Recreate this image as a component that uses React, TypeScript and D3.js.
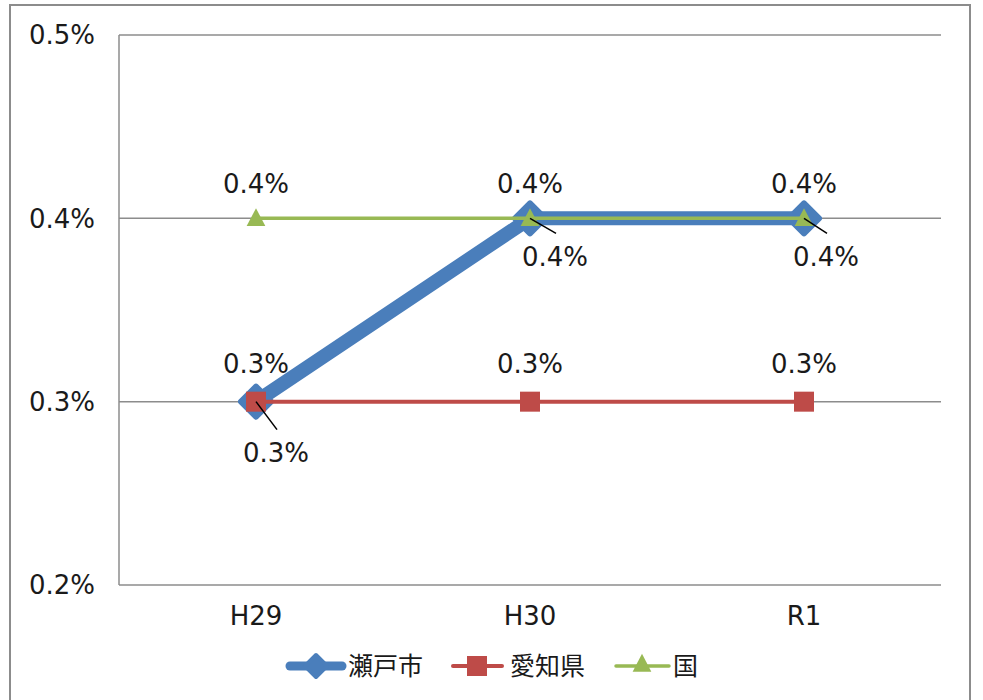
import React from "react";
import * as d3 from "d3";

const categories = ["H29", "H30", "R1"];
const setoValues = [0.003, 0.004, 0.004];
const aichiValues = [0.003, 0.003, 0.003];
const kuniValues = [0.004, 0.004, 0.004];
const yTicks = [0.002, 0.003, 0.004, 0.005];
const seriesNames = ["瀬戸市", "愛知県", "国"];

const W = 983;
const H = 700;
const M = { left: 119, right: 941, top: 35, bottom: 585 };
const LATIN = "'DejaVu Sans', sans-serif";
const CJK = "'Noto Sans CJK JP', sans-serif";
const BLUE = "#4a7ebb";
const RED = "#be4b48";
const GREEN = "#98b954";
const TXT = "#1a1a1a";

// leader-line label placement for Seto labels (layout only)
const setoLabelOffsets = [
  { lx: 21, ly: 28, tx: 20, ty: 51 },
  { lx: 26, ly: 15, tx: 25, ty: 38 },
  { lx: 23, ly: 15, tx: 22, ty: 38 },
];

const fmt = (v: number) => `${(v * 100).toFixed(1)}%`;

export default function App() {
  const x = d3.scaleBand<string>().domain(categories).range([M.left, M.right]);
  const cx = (c: string) => (x(c) as number) + x.bandwidth() / 2;
  const y = d3.scaleLinear().domain([0.002, 0.005]).range([M.bottom, M.top]);
  const line = d3
    .line<number>()
    .x((_, i) => cx(categories[i]))
    .y((d) => y(d));

  const diamond = (px: number, py: number, r: number) =>
    `M${px},${py - r}L${px + r},${py}L${px},${py + r}L${px - r},${py}Z`;
  const tri = (px: number, py: number, s: number) =>
    `M${px},${py - s * 0.6}L${px + s * 0.55},${py + s * 0.45}L${px - s * 0.55},${py + s * 0.45}Z`;

  return (
    <svg width={W} height={H} style={{ display: "block", position: "absolute", left: 0, top: 0 }}>
      <rect x={0} y={0} width={W} height={H} fill="#fff" />
      <rect x={10} y={5} width={960} height={710} fill="#fff" stroke="#8c8c8c" strokeWidth={2} />
      {yTicks.map((t) => (
        <line key={t} x1={M.left} x2={M.right} y1={y(t)} y2={y(t)} stroke="#8c8c8c" strokeWidth={1.5} />
      ))}
      <line x1={M.left} x2={M.left} y1={M.top} y2={M.bottom} stroke="#8c8c8c" strokeWidth={1.5} />
      {yTicks.map((t) => (
        <text key={t} x={62} y={y(t)} dy="0.36em" textAnchor="middle" fontFamily={LATIN} fontSize={26} fill={TXT}>
          {fmt(t)}
        </text>
      ))}
      {categories.map((c) => (
        <text key={c} x={cx(c)} y={616} dy="0.36em" textAnchor="middle" fontFamily={LATIN} fontSize={26} fill={TXT}>
          {c}
        </text>
      ))}
      <path d={line(setoValues) || ""} fill="none" stroke={BLUE} strokeWidth={14} strokeLinejoin="round" />
      {setoValues.map((v, i) => (
        <path key={i} d={diamond(cx(categories[i]), y(v), 15)} fill={BLUE} stroke={BLUE} strokeWidth={6} strokeLinejoin="round" />
      ))}
      <path d={line(aichiValues) || ""} fill="none" stroke={RED} strokeWidth={4} />
      {aichiValues.map((v, i) => (
        <rect key={i} x={cx(categories[i]) - 10} y={y(v) - 10} width={20} height={20} fill={RED} />
      ))}
      <path d={line(kuniValues) || ""} fill="none" stroke={GREEN} strokeWidth={3.5} />
      {kuniValues.map((v, i) => (
        <path key={i} d={tri(cx(categories[i]), y(v), 17)} fill={GREEN} />
      ))}
      {setoValues.map((v, i) => {
        const px = cx(categories[i]);
        const py = y(v);
        const o = setoLabelOffsets[i];
        return (
          <g key={i}>
            <line x1={px} y1={py} x2={px + o.lx} y2={py + o.ly} stroke="#000" strokeWidth={1.5} />
            <text x={px + o.tx} y={py + o.ty} dy="0.36em" textAnchor="middle" fontFamily={LATIN} fontSize={26} fill={TXT}>
              {fmt(v)}
            </text>
          </g>
        );
      })}
      {aichiValues.map((v, i) => (
        <text key={i} x={cx(categories[i])} y={y(v) - 38} dy="0.36em" textAnchor="middle" fontFamily={LATIN} fontSize={26} fill={TXT}>
          {fmt(v)}
        </text>
      ))}
      {kuniValues.map((v, i) => (
        <text key={i} x={cx(categories[i])} y={y(v) - 35} dy="0.36em" textAnchor="middle" fontFamily={LATIN} fontSize={26} fill={TXT}>
          {fmt(v)}
        </text>
      ))}
      <g>
        <line x1={290} x2={342} y1={666} y2={666} stroke={BLUE} strokeWidth={9} strokeLinecap="round" />
        <path d={diamond(316, 666, 11)} fill={BLUE} stroke={BLUE} strokeWidth={4} strokeLinejoin="round" />
        <text x={348} y={666} dy="0.36em" fontFamily={CJK} fontSize={25} fill={TXT}>{seriesNames[0]}</text>
        <line x1={453} x2={502} y1={666} y2={666} stroke={RED} strokeWidth={4} strokeLinecap="round" />
        <rect x={467} y={656} width={20} height={20} fill={RED} />
        <text x={510} y={666} dy="0.36em" fontFamily={CJK} fontSize={25} fill={TXT}>{seriesNames[1]}</text>
        <line x1={616} x2={669} y1={666} y2={666} stroke={GREEN} strokeWidth={3.5} strokeLinecap="round" />
        <path d={tri(642, 664, 17)} fill={GREEN} />
        <text x={673} y={666} dy="0.36em" fontFamily={CJK} fontSize={25} fill={TXT}>{seriesNames[2]}</text>
      </g>
    </svg>
  );
}
